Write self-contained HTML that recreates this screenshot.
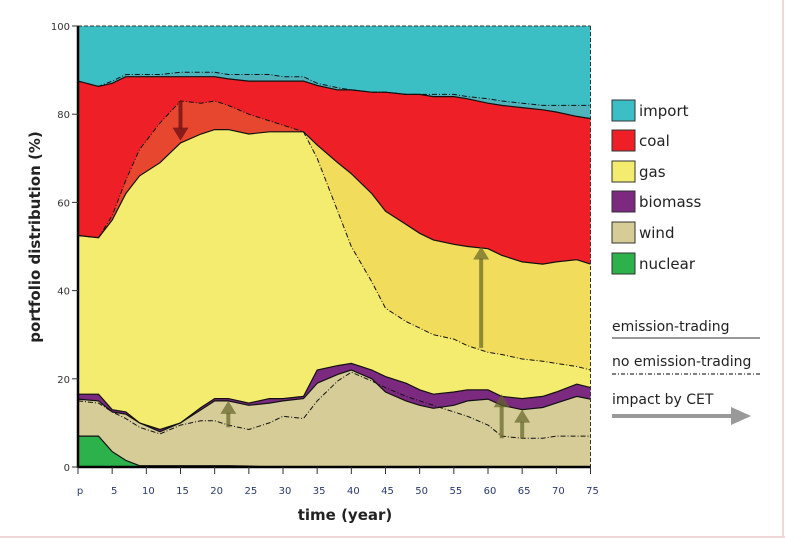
<!DOCTYPE html>
<html><head><meta charset="utf-8"><style>
body{margin:0;background:#fff;}
svg{display:block;font-family:"DejaVu Sans","Liberation Sans",sans-serif;}
</style></head><body>
<svg id="chart" width="785" height="539" viewBox="0 0 785 539">
<rect x="0" y="0" width="785" height="539" fill="#fff"/>
<line x1="783" y1="0" x2="783" y2="537" stroke="#f0d8d8" stroke-width="2"/>
<line x1="0" y1="537" x2="785" y2="537" stroke="#f0d8d8" stroke-width="2"/>
<g id="areas"></g><g id="lines"></g><g id="arrows"></g><g id="axes"></g>
<g font-size="15" fill="#222">
<rect x="612" y="100" width="23" height="21" fill="#3bbfc4" stroke="#333"/><text x="639" y="116">import</text>
<rect x="612" y="130" width="23" height="21" fill="#ee1f26" stroke="#333"/><text x="639" y="146">coal</text>
<rect x="612" y="161" width="23" height="21" fill="#f4ec6e" stroke="#333"/><text x="639" y="177">gas</text>
<rect x="612" y="191" width="23" height="21" fill="#7b2a7f" stroke="#333"/><text x="639" y="207">biomass</text>
<rect x="612" y="222" width="23" height="21" fill="#d5cc97" stroke="#333"/><text x="639" y="238">wind</text>
<rect x="612" y="253" width="23" height="21" fill="#2db14a" stroke="#333"/><text x="639" y="269">nuclear</text>
<text x="612" y="331" font-size="14">emission-trading</text>
<line x1="612" y1="338" x2="760" y2="338" stroke="#777" stroke-width="1.5"/>
<text x="612" y="366" font-size="14">no emission-trading</text>
<line x1="612" y1="374" x2="760" y2="374" stroke="#000" stroke-width="1" stroke-dasharray="4,2,1,2"/>
<text x="612" y="404" font-size="14">impact by CET</text>
<line x1="612" y1="416" x2="738" y2="416" stroke="#999" stroke-width="4"/>
<polygon points="731,407 751,416 731,425" fill="#999"/>
</g>
<text x="345" y="520" font-size="15" font-weight="bold" text-anchor="middle" fill="#222">time (year)</text>
<text transform="translate(40,237) rotate(-90)" font-size="15" font-weight="bold" text-anchor="middle" fill="#222">portfolio distribution (%)</text>
</svg>
<script>
const years=[0,3,5,7,9,12,15,18,20,22,25,28,30,33,35,38,40,43,45,48,50,52,55,57,60,62,65,68,70,73,75];
const nuclearTop=[7,7,3.5,1.5,0.3,0.3,0.3,0.3,0.3,0.3,0.2,0,0,0,0,0,0,0,0,0,0,0,0,0,0,0,0,0,0,0,0];
const windTop=[15.4,15,12.5,12,10,8,10,13,15,15,14,14.5,15,15.5,19,21,22,20,17,15,14,13.3,14,15,15.4,14,13,13.5,14.5,16,15.4];
const biomassTop=[16.5,16.5,13,12.5,10,8.5,10,13.5,15.5,15.5,14.5,15.5,15.5,16,22,23,23.5,22,20.5,19,17.5,16.5,17,17.5,17.5,16,15.5,16,17,18.8,18];
const gasTop=[52.5,52,56,62,66,69,73.5,75.5,76.5,76.5,75.5,76,76,76,73,69,66.5,62,58,55,53,51.5,50.5,50,49.5,48,46.5,46,46.5,47,46];
const coalTop=[87.5,86.3,87,88.5,88.5,88.5,88.5,88.5,88.5,88,87.5,87.5,87.5,87.5,86.5,85.5,85.5,85,85,84.5,84.5,84,84,83.5,82.5,82,81.5,81,80.5,79.5,79];
const coalTopNoET=[87.5,86.3,87.5,89,89,89,89.5,89.5,89.5,89,89,89,88.5,88.5,87,86,85.5,85,85,84.5,84.5,84.5,84.5,84,83.5,83,82.5,82,82,82,82];
const gasTopNoET=[52.5,52,57,65,72,78,83,82.5,83,82,80,78.5,77.5,76,70,58,50,42,36,33,31.5,30,29,27.5,26,25.5,24.5,24,23.5,22.8,22];
const windTopNoET=[15,14.5,12.5,11,9,7.5,9.5,10.5,10.5,9.5,8.5,10,11.5,11,15,19.5,21.5,19.5,18,16,15,14,12.5,11.5,9.5,7,6.5,6.5,7,7,7];
const arrowYears=[15,22,59,62,65];
const arrowFrom=[83,9,27,6.5,6.5];
const arrowTo=[74,15,50,16.5,13];
const xTicks=[0,5,10,15,20,25,30,35,40,45,50,55,60,65,70,75];
const xTickLabels=["p","5","10","15","20","25","30","35","40","45","50","55","60","65","70","75"];
const yTicks=[0,20,40,60,80,100];

const X0=78,X1=590.5,Y0=467,Y1=26;
const xs=v=>X0+(v-0)/(75-0)*(X1-X0);
const ys=v=>Y0-v/100*(Y0-Y1);
const NS="http://www.w3.org/2000/svg";
function mk(tag,attrs,parent){const e=document.createElementNS(NS,tag);for(const k in attrs)e.setAttribute(k,attrs[k]);parent.appendChild(e);return e;}
const areas=document.getElementById('areas'),lines=document.getElementById('lines'),arrows=document.getElementById('arrows'),axes=document.getElementById('axes');
function pts(arr){return arr.map((v,i)=>xs(years[i]).toFixed(1)+','+ys(v).toFixed(1)).join(' ');}
function area(arr,fill,name){const p=mk('polygon',{points:xs(0)+','+ys(0)+' '+pts(arr)+' '+xs(75)+','+ys(0),fill:fill},areas);

}
const full=years.map(()=>100);
area(full,'#3bbfc4','area-import');
area(coalTopNoET,'#4fb3bb','area-import-shift');
area(coalTop,'#ee1f26','area-coal');
area(gasTop.map((v,i)=>Math.max(v,gasTopNoET[i])),'#e8472f','area-coal-shift');
area(gasTop,'#f2dc5c','area-gas-shift');
area(gasTop.map((v,i)=>Math.min(v,gasTopNoET[i])),'#f4ec6e','area-gas');
area(biomassTop,'#7b2a7f','area-biomass');
area(windTop,'#d5cc97','area-wind');
area(nuclearTop,'#2db14a','area-nuclear');
function line(arr,dash,name){const l=mk('polyline',{points:pts(arr),fill:'none',stroke:'#111','stroke-width':dash?1:1.2},lines);
if(dash)l.setAttribute('stroke-dasharray','5,2,1,2');

}
line(coalTop,false,'line-coal');line(gasTop,false,'line-gas');line(biomassTop,false,'line-biomass');line(windTop,false,'line-wind');line(nuclearTop,false,'line-nuclear');
line(coalTopNoET,true,'line-coal-no-et');line(gasTopNoET,true,'line-gas-no-et');line(windTopNoET,true,'line-wind-no-et');
arrowYears.forEach((yr,i)=>{
  const x=xs(yr),a=ys(arrowFrom[i]),b=ys(arrowTo[i]);const dir=b<a?1:-1;
  const col=i===0?'rgba(120,20,20,0.85)':'rgba(100,100,40,0.7)';
  const g=mk('g',{},arrows);
  
  
  mk('line',{x1:x,y1:a,x2:x,y2:b+dir*12,stroke:col,'stroke-width':4},g);
  mk('polygon',{points:`${x-8},${b+dir*13} ${x},${b} ${x+8},${b+dir*13}`,fill:col},g);
});
mk('line',{x1:X0,y1:Y1,x2:X1,y2:Y1,stroke:'#333','stroke-width':1,'stroke-dasharray':'4,2'},axes);
mk('line',{x1:X1,y1:Y1,x2:X1,y2:Y0,stroke:'#333','stroke-width':1,'stroke-dasharray':'4,2'},axes);
mk('line',{x1:X0,y1:Y1,x2:X0,y2:Y0+1,stroke:'#000','stroke-width':2.5},axes);
mk('line',{x1:X0,y1:Y0,x2:X1,y2:Y0,stroke:'#000','stroke-width':2.5},axes);
yTicks.forEach(v=>{
  mk('line',{x1:X0-6,y1:ys(v),x2:X0,y2:ys(v),stroke:'#333'},axes);
  const t=mk('text',{x:X0-8,y:ys(v)+4,'font-size':10,'text-anchor':'end',fill:'#333'},axes);t.textContent=v;
  
  
});
xTicks.forEach((v,i)=>{
  mk('line',{x1:xs(v),y1:Y0,x2:xs(v),y2:Y0+7,stroke:'#333'},axes);
  const t=mk('text',{x:xs(v)+2,y:Y0+27,'font-size':10,'text-anchor':'middle',fill:'#2a3a6a'},axes);t.textContent=xTickLabels[i];
  
  
});
</script>
</body></html>
